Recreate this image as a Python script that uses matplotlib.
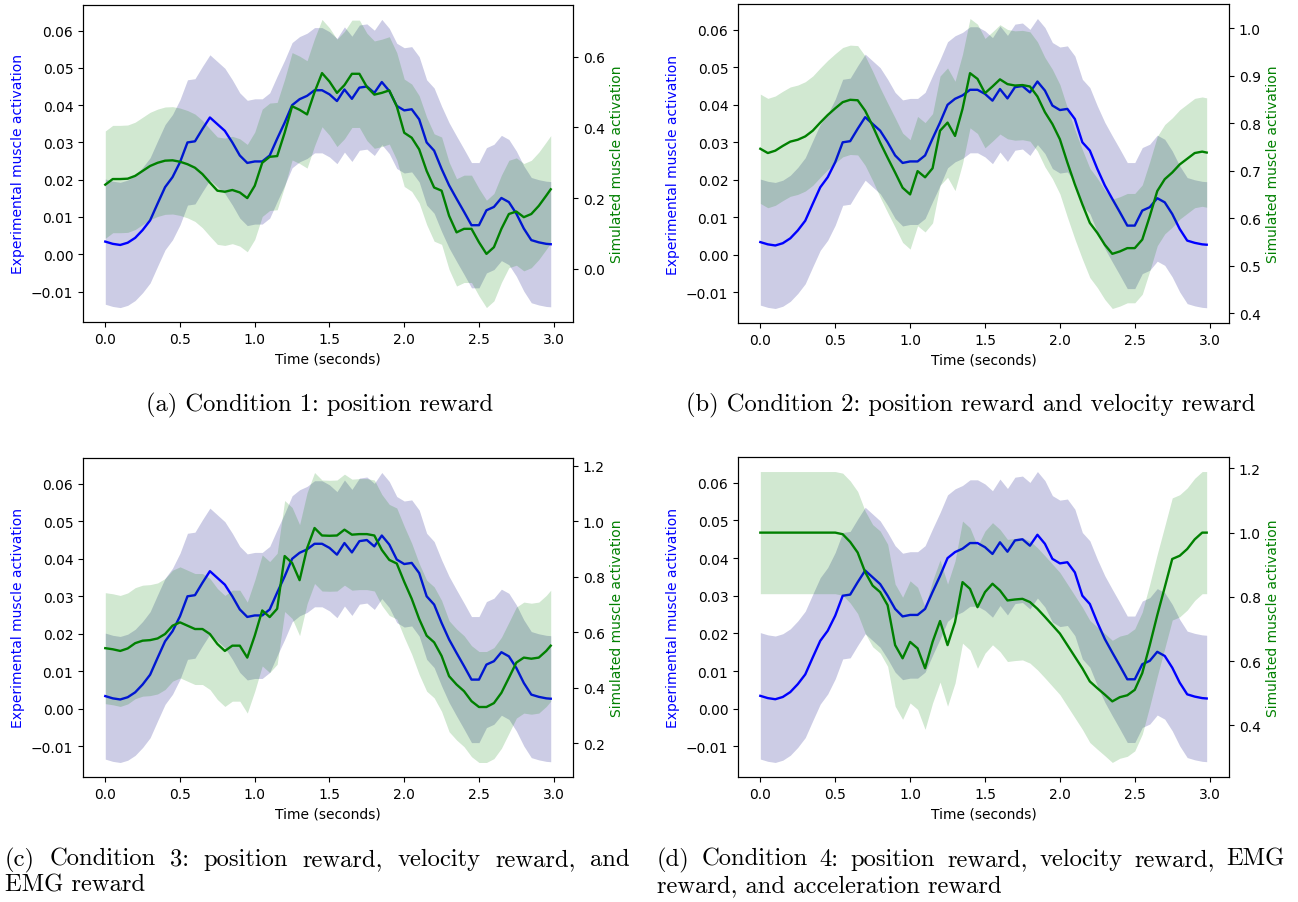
import numpy as np
import matplotlib
matplotlib.use("Agg")
import matplotlib.pyplot as plt

# ---------------- data ----------------
time_s = np.append(np.round(np.arange(0, 2.951, 0.05), 2), 2.98)

exp_mean = [0.0034, 0.0028, 0.0025, 0.0031, 0.0044, 0.0065, 0.0091, 0.0136, 0.0180, 0.0207,
            0.0247, 0.0300, 0.0303, 0.0336, 0.0367, 0.0349, 0.0331, 0.0300, 0.0265, 0.0245,
            0.0249, 0.0249, 0.0265, 0.0310, 0.0353, 0.0400, 0.0416, 0.0425, 0.0440, 0.0440,
            0.0429, 0.0411, 0.0442, 0.0417, 0.0447, 0.0450, 0.0433, 0.0462, 0.0438, 0.0398,
            0.0386, 0.0389, 0.0362, 0.0300, 0.0278, 0.0229, 0.0185, 0.0149, 0.0114, 0.0078,
            0.0078, 0.0118, 0.0127, 0.0151, 0.0140, 0.0109, 0.0069, 0.0038, 0.0032, 0.0028,
            0.0027]
exp_std = 0.0168

sim_mean_c1 = [0.238, 0.254, 0.254, 0.255, 0.263, 0.277, 0.291, 0.300, 0.306, 0.307,
               0.303, 0.296, 0.286, 0.268, 0.244, 0.221, 0.218, 0.223, 0.216, 0.200,
               0.235, 0.300, 0.317, 0.319, 0.385, 0.460, 0.450, 0.437, 0.500, 0.554,
               0.530, 0.498, 0.520, 0.552, 0.552, 0.515, 0.493, 0.498, 0.505, 0.460,
               0.385, 0.371, 0.338, 0.277, 0.230, 0.221, 0.150, 0.103, 0.113, 0.113,
               0.075, 0.042, 0.061, 0.113, 0.155, 0.162, 0.146, 0.155, 0.178, 0.207,
               0.225]
sim_mean_c2 = [0.746, 0.737, 0.742, 0.752, 0.761, 0.765, 0.772, 0.784, 0.801, 0.817,
               0.831, 0.844, 0.849, 0.848, 0.826, 0.794, 0.759, 0.727, 0.696, 0.664,
               0.650, 0.699, 0.686, 0.705, 0.784, 0.801, 0.773, 0.830, 0.905, 0.893,
               0.863, 0.877, 0.892, 0.882, 0.879, 0.880, 0.877, 0.856, 0.823, 0.798,
               0.766, 0.717, 0.671, 0.629, 0.590, 0.569, 0.544, 0.525, 0.530, 0.537,
               0.537, 0.555, 0.604, 0.657, 0.682, 0.696, 0.713, 0.725, 0.737, 0.740,
               0.738]
sim_mean_c3 = [0.543, 0.539, 0.533, 0.542, 0.561, 0.570, 0.572, 0.578, 0.594, 0.624,
               0.636, 0.624, 0.612, 0.612, 0.594, 0.558, 0.533, 0.552, 0.552, 0.509,
               0.588, 0.679, 0.655, 0.685, 0.875, 0.850, 0.788, 0.903, 0.976, 0.949,
               0.948, 0.949, 0.970, 0.952, 0.954, 0.954, 0.949, 0.897, 0.861, 0.848,
               0.782, 0.721, 0.648, 0.588, 0.564, 0.515, 0.442, 0.412, 0.388, 0.352,
               0.331, 0.331, 0.345, 0.382, 0.436, 0.491, 0.509, 0.505, 0.509, 0.533,
               0.552]
sim_mean_c4 = [1.000, 1.000, 1.000, 1.000, 1.000, 1.000, 1.000, 1.000, 1.000, 1.000,
               1.000, 0.995, 0.971, 0.938, 0.877, 0.835, 0.815, 0.774, 0.650, 0.609,
               0.660, 0.640, 0.578, 0.660, 0.725, 0.650, 0.722, 0.846, 0.825, 0.768,
               0.815, 0.841, 0.820, 0.789, 0.792, 0.794, 0.784, 0.763, 0.738, 0.712,
               0.686, 0.650, 0.614, 0.578, 0.537, 0.516, 0.496, 0.475, 0.488, 0.494,
               0.511, 0.563, 0.650, 0.743, 0.830, 0.918, 0.928, 0.949, 0.979, 1.000,
               1.000]
sim_std = [0.152, 0.115, 0.200, 0.190]

x_ticks = [0.0, 0.5, 1.0, 1.5, 2.0, 2.5, 3.0]
right_ticks = [[0.0, 0.2, 0.4, 0.6],
               [0.4, 0.5, 0.6, 0.7, 0.8, 0.9, 1.0],
               [0.2, 0.4, 0.6, 0.8, 1.0, 1.2],
               [0.4, 0.6, 0.8, 1.0, 1.2]]

captions = [
    "(a) Condition 1: position reward",
    "(b) Condition 2: position reward and velocity reward",
    "(c) Condition 3:  position reward, velocity reward, and EMG reward",
    "(d) Condition 4:  position reward, velocity reward, EMG reward, and acceleration reward",
]

x_label = "Time (seconds)"
left_label = "Experimental muscle activation"
right_label = "Simulated muscle activation"

# ---------------- figure ----------------
W, H = 1298, 903
fig = plt.figure(figsize=(W / 100, H / 100), dpi=100)

boxes = [(83, 6, 573, 323), (738, 5, 1229, 324), (83, 459, 573, 778), (738, 458, 1229, 778)]
sim_means = [sim_mean_c1, sim_mean_c2, sim_mean_c3, sim_mean_c4]
FS = 10

for i, (l, t, r, b) in enumerate(boxes):
    ax = fig.add_axes([l / W, 1 - b / H, (r - l) / W, (b - t) / H])
    m = np.array(exp_mean)
    ax.fill_between(time_s, m - exp_std, m + exp_std, color="navy", alpha=0.2, lw=0)
    ax.plot(time_s, m, color="blue", lw=1.7)
    ax.set_xlabel(x_label, fontsize=FS)
    ax.set_ylabel(left_label, color="blue", fontsize=FS)
    ax.tick_params(labelsize=FS)
    ax.set_xticks(x_ticks)

    ax2 = ax.twinx()
    s = np.array(sim_means[i])
    ax2.fill_between(time_s, s - sim_std[i], s + sim_std[i], color="green", alpha=0.18, lw=0)
    ax2.plot(time_s, s, color="green", lw=1.7)
    ax2.set_ylabel(right_label, color="green", fontsize=FS)
    ax2.tick_params(labelsize=FS)
    ax2.set_yticks(right_ticks[i])
    ax2.autoscale(axis="y")
    lo = min(s - sim_std[i]); hi = max(s + sim_std[i]); pad = 0.05 * (hi - lo)
    ax2.set_ylim(lo - pad, hi + pad)

# ---------------- captions ----------------
CAP_FS = 17.7
CAP_FONT = "cmr10"

def fig_text(x, y, s, ha="left"):
    return fig.text(x / W, 1 - y / H, s, ha=ha, va="baseline",
                    fontsize=CAP_FS, family=CAP_FONT)

fig_text(320, 411, captions[0], ha="center")
fig_text(971, 411, captions[1], ha="center")

renderer = fig.canvas.get_renderer()

def justified(words, x0, x1, y):
    texts = [fig_text(0, y, w) for w in words]
    widths = [tx.get_window_extent(renderer).width for tx in texts]
    gap = (x1 - x0 - sum(widths)) / (len(words) - 1)
    x = x0
    for tx, w in zip(texts, widths):
        tx.set_x(x / W)
        x += w + gap

justified("(c) Condition 3: position reward, velocity reward, and".split(), 5, 630, 866)
fig_text(5, 892, "EMG reward")
justified("(d) Condition 4: position reward, velocity reward, EMG".split(), 657, 1285, 866)
fig_text(657, 892, "reward, and acceleration reward")

fig.savefig("out.png", dpi=100)
